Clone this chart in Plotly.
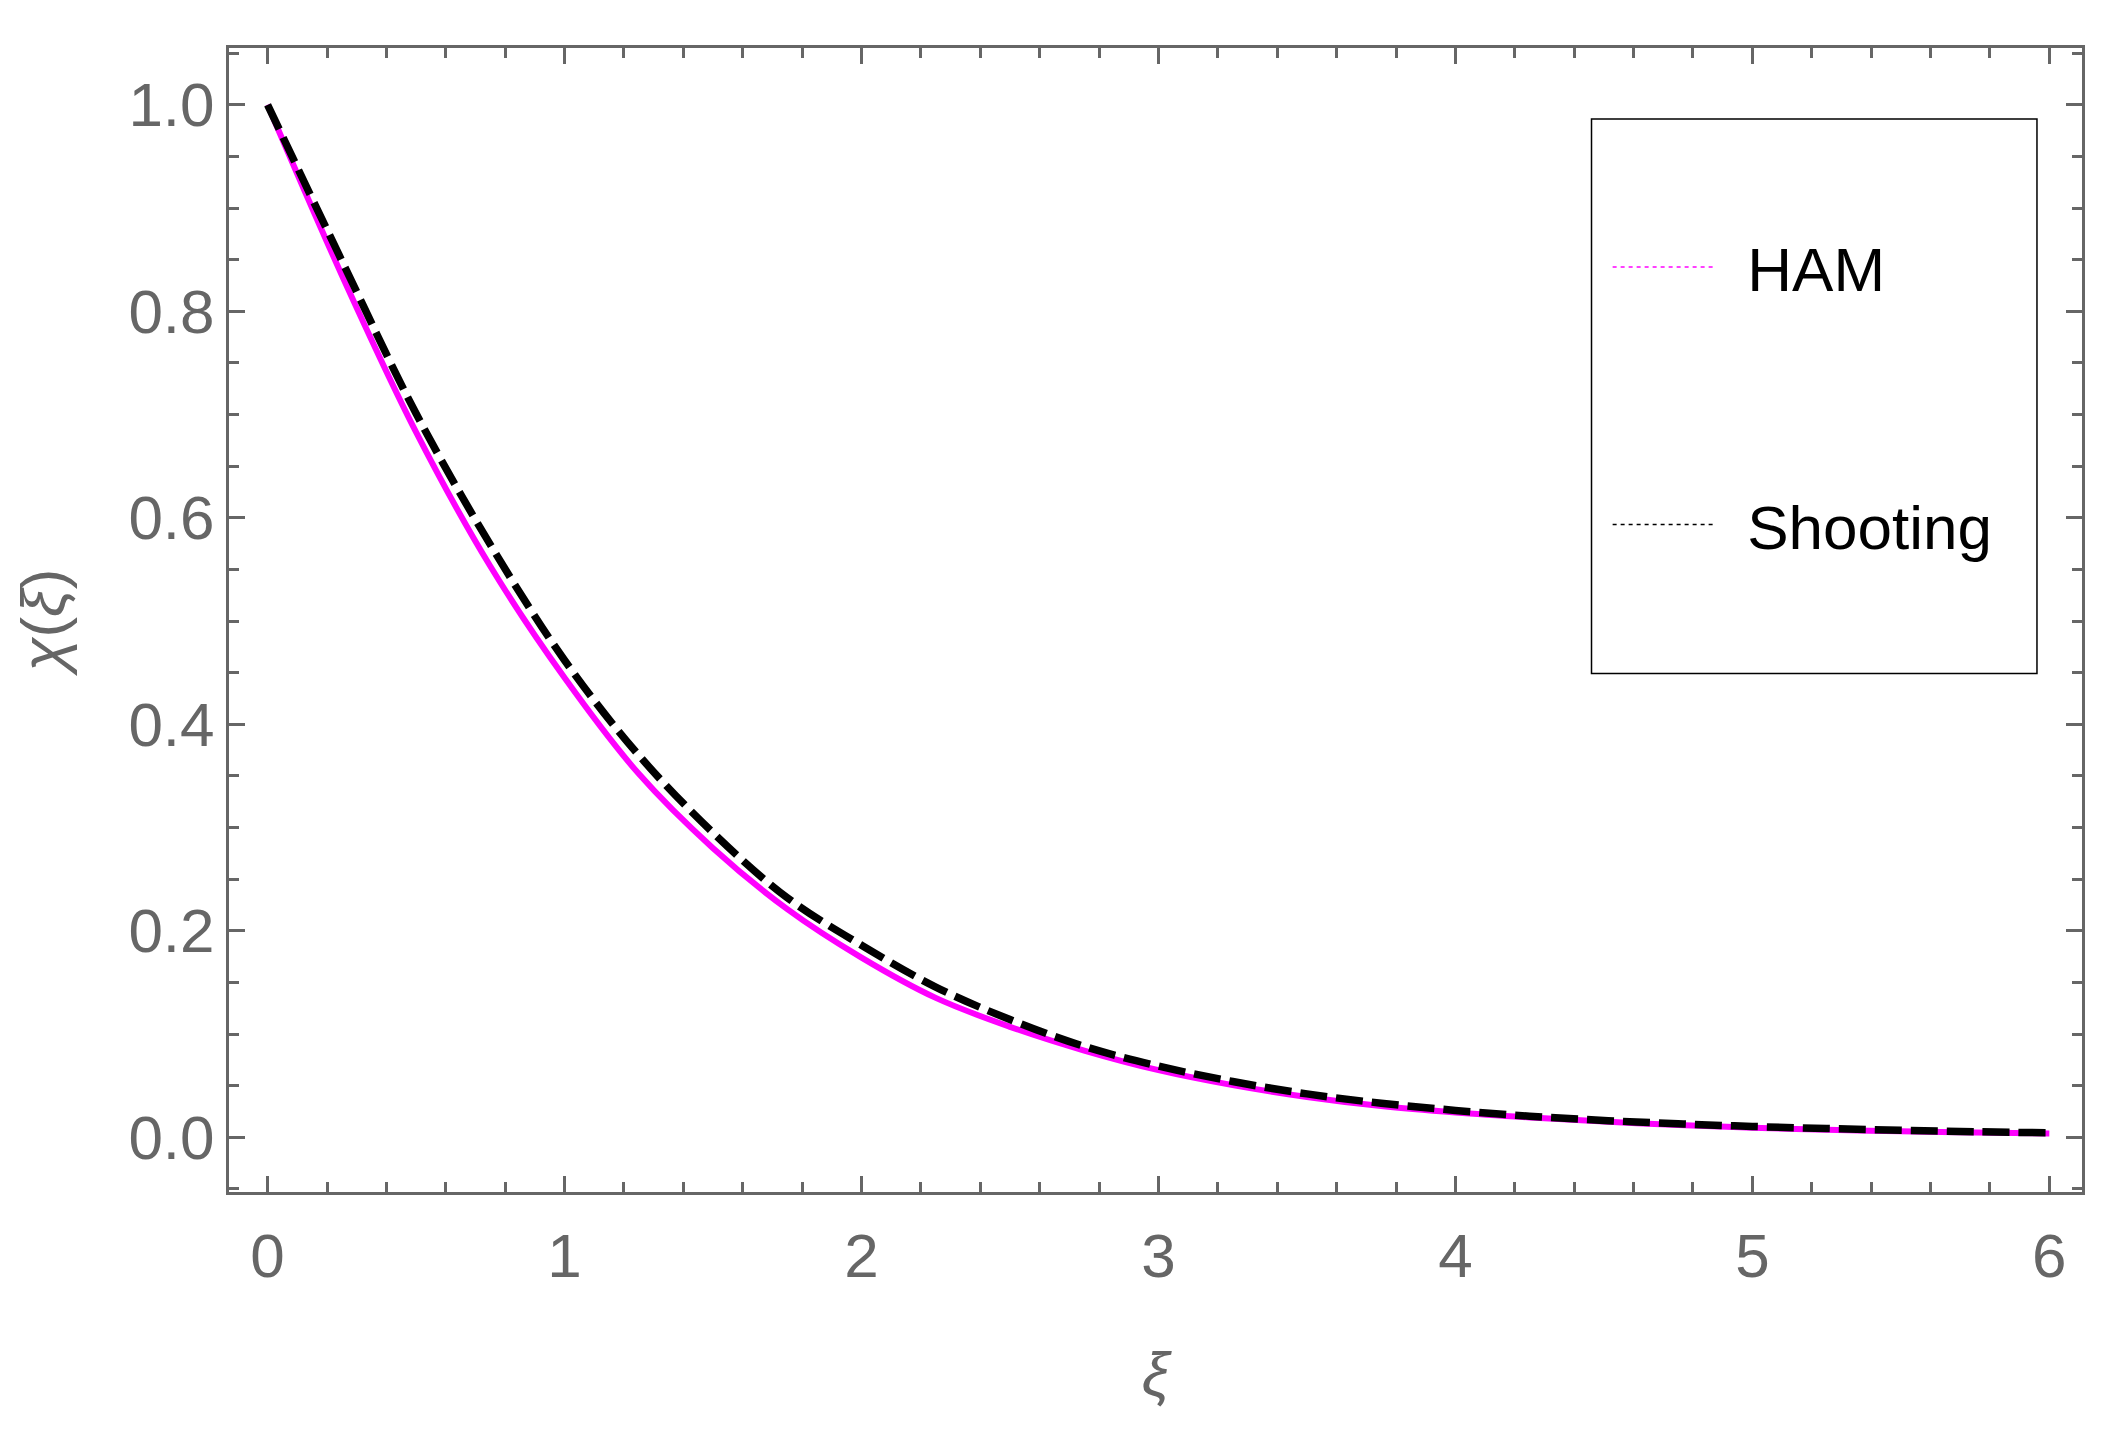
import plotly.graph_objects as go

# ---- data ----
xi = [0.0, 0.25, 0.5, 0.75, 1.0, 1.25, 1.5, 1.75, 2.0, 2.25, 2.5, 2.75, 3.0,
      3.25, 3.5, 3.75, 4.0, 4.25, 4.5, 4.75, 5.0, 5.25, 5.5, 5.75, 6.0]
ham = [1.000, 0.835, 0.683, 0.553, 0.445, 0.352, 0.280, 0.221, 0.174, 0.135,
       0.107, 0.084, 0.0650, 0.0505, 0.0390, 0.0302, 0.0240, 0.0192, 0.0152,
       0.0118, 0.0093, 0.0074, 0.0058, 0.0046, 0.0036]
shooting = [1.000, 0.849, 0.701, 0.574, 0.462, 0.370, 0.295, 0.232, 0.186,
            0.1455, 0.114, 0.088, 0.069, 0.054, 0.042, 0.033, 0.026, 0.0204,
            0.0163, 0.0131, 0.0105, 0.0085, 0.0068, 0.0054, 0.0043]
series_names = ["HAM", "Shooting"]
x_ticks = [0, 1, 2, 3, 4, 5, 6]
y_ticks = [0.0, 0.2, 0.4, 0.6, 0.8, 1.0]

GRAY = "#666666"
MAGENTA = "#FF00FF"
NB = "\u00a0\u2009"

fig = go.Figure()
fig.add_trace(go.Scatter(x=xi, y=ham, mode="lines", line_shape="spline",
                         line=dict(color=MAGENTA, width=6), showlegend=False,
                         name=series_names[0]))
fig.add_trace(go.Scatter(x=xi, y=shooting, mode="lines", line_shape="spline",
                         line=dict(color="black", width=7.5, dash="27px,9px"),
                         showlegend=False, name=series_names[1]))
# legend entries (thin dashed samples as in the reference)
fig.add_trace(go.Scatter(x=[None], y=[None], mode="lines", name=NB + series_names[0],
                         legendgroup="a",
                         line=dict(color=MAGENTA, width=1.5, dash="4px,4px")))
fig.add_trace(go.Scatter(x=[None], y=[None], mode="lines", name=NB + series_names[1],
                         legendgroup="b",
                         line=dict(color="black", width=1.5, dash="4px,4px")))

axis_common = dict(
    showline=True, linecolor=GRAY, linewidth=3, mirror="ticks",
    ticks="inside", ticklen=16, tickwidth=3, tickcolor=GRAY,
    showgrid=False, zeroline=False,
    tickfont=dict(family="Liberation Sans, Arial", size=62, color=GRAY),
)

fig.update_layout(
    width=2112, height=1443,
    margin=dict(l=221, r=38, t=40, b=259),
    plot_bgcolor="white", paper_bgcolor="white",
    xaxis=dict(range=[-0.13, 6.11], tickvals=x_ticks,
               minor=dict(dtick=0.2, tick0=0, ticks="inside", ticklen=10,
                          tickwidth=3, tickcolor=GRAY),
               ticklabelstandoff=8,
               title=dict(text="<i>ξ</i>", standoff=63,
                          font=dict(family="Liberation Sans, Arial",
                                    size=62, color=GRAY)),
               **axis_common),
    yaxis=dict(range=[-0.053, 1.055], tickvals=y_ticks, tickformat=".1f",
               minor=dict(dtick=0.05, tick0=0, ticks="inside", ticklen=10,
                          tickwidth=3, tickcolor=GRAY),
               ticklabelstandoff=-1,
               title=dict(text="<i>χ</i>(<i>ξ</i>)", standoff=54,
                          font=dict(family="Liberation Sans, Arial",
                                    size=62, color=GRAY)),
               **axis_common),
    legend=dict(x=0.744, y=0.8495, xanchor="left", yanchor="top",
                bgcolor="rgba(0,0,0,0)", borderwidth=0,
                traceorder="grouped", tracegroupgap=174, itemwidth=100,
                font=dict(family="Liberation Sans, Arial", size=62, color="black")),
    shapes=[dict(type="rect", xref="paper", yref="paper",
                 x0=0.7353, x1=0.9757, y0=0.4533, y1=0.938,
                 line=dict(color="black", width=1.5), fillcolor="rgba(0,0,0,0)")],
)

fig.write_html("out.html")
